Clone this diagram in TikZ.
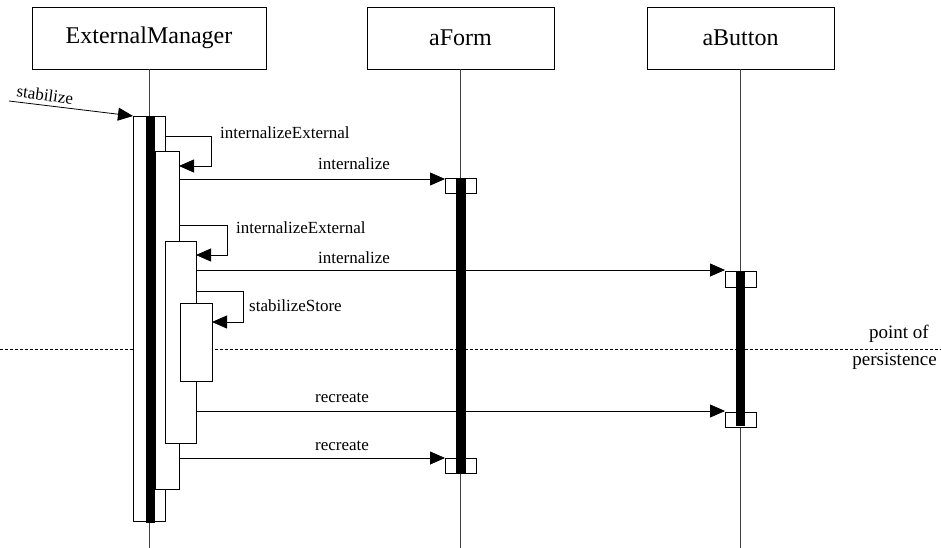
\documentclass[tikz,border=0pt]{standalone}
\usepackage{fontspec}
\setmainfont{Liberation Serif}
\usetikzlibrary{arrows.meta}
\begin{document}
\begin{tikzpicture}[x=1pt,y=-1pt,
  objbox/.style={draw=black,line width=0.9pt,fill=white,inner sep=0pt,outer sep=0pt,
    minimum width=187pt,minimum height=62pt,font=\fontsize{24}{28}\selectfont},
  life/.style={draw=black!75,line width=0.8pt},
  act/.style={draw=black,line width=0.8pt,fill=white,inner sep=0pt,outer sep=0pt},
  bar/.style={fill=black,inner sep=0pt,outer sep=0pt},
  msg/.style={draw=black,line width=0.8pt,-{Triangle[length=15pt,width=13pt]}},
  lbl/.style={font=\fontsize{17}{20}\selectfont,inner sep=0pt},
  note/.style={font=\fontsize{19}{22}\selectfont,inner sep=0pt}]
\path[use as bounding box,fill=white] (0,0) rectangle (941,548);

% objects
\node[objbox,minimum width=234pt] (em) at (149,38) {ExternalManager};
\node[objbox] (fm) at (460.5,38) {aForm};
\node[objbox] (bt) at (740.5,38) {aButton};

% lifelines
\coordinate (emEnd) at (149,548);
\coordinate (fmEnd) at (460,548);
\coordinate (btEnd) at (740,548);
\draw[life] (em.south -| emEnd) -- (emEnd);
\draw[life] (fm.south -| fmEnd) -- (fmEnd);
\draw[life] (bt.south -| btEnd) -- (btEnd);

% point of persistence
\coordinate (ppL) at (0,349);
\coordinate (ppR) at (941,349);
\draw[line width=0.7pt,dash pattern=on 3pt off 2pt] (ppL) -- (ppR);
\node[note,anchor=base east] (pp1) at (929,338) {point of};
\node[note,anchor=base east] (pp2) at (937,365) {persistence};

% activations of ExternalManager
\node[act,minimum width=32pt,minimum height=405pt] (a1) at (149,318.5) {};
\node[act,minimum width=24pt,minimum height=338pt] (a2) at (167,320) {};
\node[act,minimum width=31pt,minimum height=202pt] (a3) at (180.5,342) {};
\node[act,minimum width=32pt,minimum height=78pt] (a4) at (196,342) {};
\node[bar,minimum width=9pt,minimum height=407pt] (b1) at (150.5,319.5) {};

% activations of aForm
\node[act,minimum width=31pt,minimum height=15pt] (f1) at (460.5,185.5) {};
\node[act,minimum width=31pt,minimum height=15pt] (f2) at (460.5,465.5) {};
\node[bar,minimum width=10pt,minimum height=295pt] (fb) at (461,325.5) {};

% activations of aButton
\node[act,minimum width=31pt,minimum height=16pt] (g1) at (740.5,279) {};
\node[act,minimum width=31pt,minimum height=15pt] (g2) at (740.5,419.5) {};
\node[bar,minimum width=9pt,minimum height=155pt] (gb) at (740.5,348.5) {};

% incoming call
\coordinate (st) at (9,101);
\draw[msg] (st) -- (a1.north west);
\node[lbl,rotate=-8] (stl) at (45,95) {stabilize};

% self calls
\draw[msg] (a1.east |- 0,136) -- (211,136) -- (211,166) -- (a2.east |- 0,166);
\node[lbl,anchor=west] (l1) at (220,133) {internalizeExternal};
\draw[msg] (a2.east |- 0,225) -- (227,225) -- (227,255) -- (a3.east |- 0,255);
\node[lbl,anchor=west] (l2) at (236,228) {internalizeExternal};
\draw[msg] (a3.east |- 0,291) -- (243,291) -- (243,322) -- (a4.east |- 0,322);
\node[lbl,anchor=west] (l3) at (249,306) {stabilizeStore};

% calls to the widgets
\draw[msg] (a2.east |- 0,179) -- (f1.west |- 0,179);
\node[lbl] (m1) at (354,164) {internalize};
\draw[msg] (a3.east |- 0,270) -- (g1.west |- 0,270);
\node[lbl] (m2) at (354,258) {internalize};
\draw[msg] (a3.east |- 0,411) -- (g2.west |- 0,411);
\node[lbl] (m3) at (342,398) {recreate};
\draw[msg] (a2.east |- 0,458) -- (f2.west |- 0,458);
\node[lbl] (m4) at (342,446) {recreate};
\end{tikzpicture}
\end{document}
